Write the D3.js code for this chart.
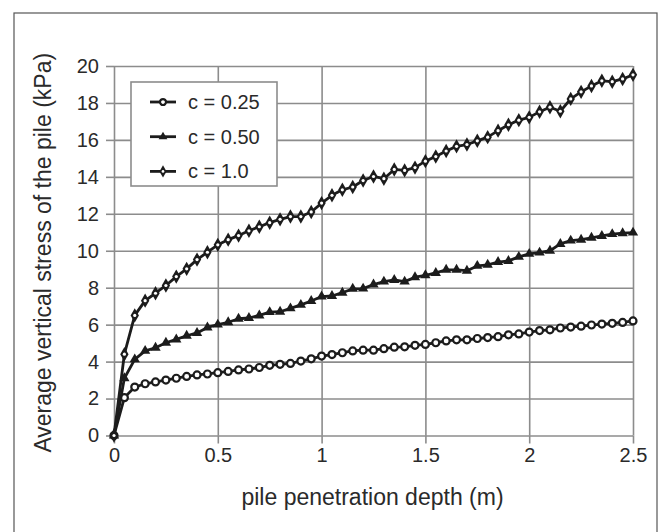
<!DOCTYPE html>
<html>
<head>
<meta charset="utf-8">
<script src="https://cdn.jsdelivr.net/npm/d3@7"></script>
<style>
  body { margin: 0; background: #fff; }
  svg { display: block; font-family: "Liberation Sans", Arial, sans-serif; }
</style>
</head>
<body>
<svg width="662" height="532"></svg>
<script>
// depth values (m), one every 0.05
var depth = d3.range(51).map(function (i) { return +(i * 0.05).toFixed(2); });

var stressC025 = [0, 2.05, 2.62, 2.8, 2.9, 3.0, 3.1, 3.2, 3.28, 3.33, 3.4, 3.47, 3.55, 3.6, 3.68, 3.8, 3.85, 3.9, 4.03, 4.15,
    4.3, 4.38, 4.48, 4.58, 4.62, 4.62, 4.7, 4.78, 4.8, 4.88, 4.93, 5.02, 5.12, 5.18, 5.18, 5.25, 5.3, 5.35, 5.45, 5.5,
    5.6, 5.68, 5.72, 5.82, 5.87, 5.92, 5.98, 6.03, 6.07, 6.12, 6.2];

var stressC050 = [0, 3.1, 4.12, 4.58, 4.75, 5.02, 5.2, 5.4, 5.55, 5.85, 6.0, 6.13, 6.32, 6.36, 6.5, 6.68, 6.7, 6.88, 7.07, 7.28,
    7.52, 7.55, 7.73, 7.94, 7.95, 8.17, 8.33, 8.42, 8.33, 8.57, 8.67, 8.8, 8.97, 8.97, 8.92, 9.18, 9.24, 9.39, 9.45, 9.67,
    9.83, 9.9, 10.0, 10.37, 10.55, 10.6, 10.7, 10.8, 10.9, 10.95, 10.98];

var stressC100 = [0, 4.4, 6.5, 7.3, 7.7, 8.12, 8.6, 9.02, 9.52, 9.92, 10.32, 10.6, 10.82, 11.08, 11.3, 11.52, 11.7, 11.85, 11.85, 12.1,
    12.58, 13.0, 13.3, 13.45, 13.8, 14.02, 13.9, 14.4, 14.35, 14.5, 14.85, 15.1, 15.4, 15.65, 15.75, 15.95, 16.15, 16.5, 16.82, 17.07,
    17.22, 17.52, 17.77, 17.55, 18.22, 18.6, 18.92, 19.2, 19.15, 19.3, 19.52];

var seriesNames = ['c = 0.25', 'c = 0.50', 'c = 1.0'];
var seriesValues = [stressC025, stressC050, stressC100];
var markerKinds = ['circle', 'triangle', 'diamond'];

var xTicks = [0, 0.5, 1, 1.5, 2, 2.5];
var yTicks = [0, 2, 4, 6, 8, 10, 12, 14, 16, 18, 20];

var svg = d3.select('svg');
var ink = '#1c1c1c';
var gridColor = '#8c8c8c';
var textColor = '#2a2a2a';

var plot = { left: 114, right: 633, top: 66, bottom: 435.5 };

var x = d3.scaleLinear().domain([0, 2.5]).range([plot.left, plot.right]);
var y = d3.scaleLinear().domain([0, 20]).range([plot.bottom, plot.top]);

// outer frame (runs off the bottom of the picture)
svg.append('rect')
    .attr('x', 14).attr('y', 13)
    .attr('width', 643).attr('height', 540)
    .attr('fill', 'none')
    .attr('stroke', '#555')
    .attr('stroke-width', 1.2);

// grid + axes
var xAxis = d3.axisBottom(x).tickValues(xTicks)
    .tickSize(-(plot.bottom - plot.top)).tickPadding(12)
    .tickFormat(d3.format('~g'));
var yAxis = d3.axisLeft(y).tickValues(yTicks)
    .tickSize(-(plot.right - plot.left)).tickPadding(12)
    .tickFormat(d3.format('d'));

var gx = svg.append('g').attr('transform', 'translate(0,' + plot.bottom + ')').call(xAxis);
var gy = svg.append('g').attr('transform', 'translate(' + plot.left + ',0)').call(yAxis);

[gx, gy].forEach(function (g) {
    g.select('.domain').remove();
    g.selectAll('.tick line').attr('stroke', gridColor).attr('stroke-width', 1.6);
    g.selectAll('.tick text').attr('fill', textColor).style('font-size', '20px');
});
// little outside ticks
gx.selectAll('.tick').append('line').attr('y1', 0).attr('y2', 8).attr('stroke', gridColor).attr('stroke-width', 1.6);
gy.selectAll('.tick').append('line').attr('x1', 0).attr('x2', -8).attr('stroke', gridColor).attr('stroke-width', 1.6);
gx.selectAll('.tick text').attr('dy', '0.72em');
gy.selectAll('.tick text').attr('x', -15);

// axis titles
svg.append('text')
    .attr('x', (plot.left + plot.right) / 2 - 1).attr('y', 505)
    .attr('text-anchor', 'middle')
    .attr('fill', textColor)
    .style('font-size', '23px')
    .text('pile penetration depth (m)');

svg.append('text')
    .attr('transform', 'translate(51,' + ((plot.top + plot.bottom) / 2 + 2) + ') rotate(-90)')
    .attr('text-anchor', 'middle')
    .attr('fill', textColor)
    .style('font-size', '23px')
    .text('Average vertical stress of the pile (kPa)');

function drawMarker(sel, kind, scale) {
    scale = scale || 1;
    if (kind === 'circle') {
        sel.append('circle').attr('r', 3.5 * scale)
            .attr('fill', '#fff').attr('stroke', ink).attr('stroke-width', 2.2);
    } else if (kind === 'triangle') {
        sel.append('path').attr('d', d3.symbol(d3.symbolTriangle, 46 * scale * scale)())
            .attr('fill', ink);
    } else {
        sel.append('path').attr('d', d3.symbol(d3.symbolDiamond, 60 * scale * scale)())
            .attr('fill', ink);
        sel.append('circle').attr('r', 1.6 * scale).attr('fill', '#fff');
    }
}

var line = d3.line()
    .x(function (d) { return x(d[0]); })
    .y(function (d) { return y(d[1]); });

seriesValues.forEach(function (vals, si) {
    var pts = depth.map(function (d, i) { return [d, vals[i]]; });
    var g = svg.append('g');
    g.append('path').datum(pts)
        .attr('d', line)
        .attr('fill', 'none')
        .attr('stroke', ink)
        .attr('stroke-width', 2.8)
        .attr('stroke-linejoin', 'round');
    g.selectAll('.pt').data(pts).enter().append('g')
        .attr('class', 'pt')
        .attr('transform', function (d) { return 'translate(' + x(d[0]) + ',' + y(d[1]) + ')'; })
        .each(function () { drawMarker(d3.select(this), markerKinds[si]); });
});

// legend
var legend = svg.append('g');
legend.append('rect')
    .attr('x', 131).attr('y', 82)
    .attr('width', 146).attr('height', 104)
    .attr('fill', '#fff')
    .attr('stroke', gridColor)
    .attr('stroke-width', 1.6);

seriesNames.forEach(function (name, i) {
    var ry = 102 + i * 34.7;
    var row = legend.append('g').attr('transform', 'translate(0,' + ry + ')');
    row.append('line').attr('x1', 150).attr('x2', 176).attr('y1', 0).attr('y2', 0)
        .attr('stroke', ink).attr('stroke-width', 2.8);
    var m = row.append('g').attr('transform', 'translate(163,0)');
    drawMarker(m, markerKinds[i], 0.85);
    row.append('text')
        .attr('x', 188).attr('y', 0).attr('dy', '0.35em')
        .attr('fill', textColor)
        .style('font-size', '20px')
        .text(name);
});
</script>
</body>
</html>
